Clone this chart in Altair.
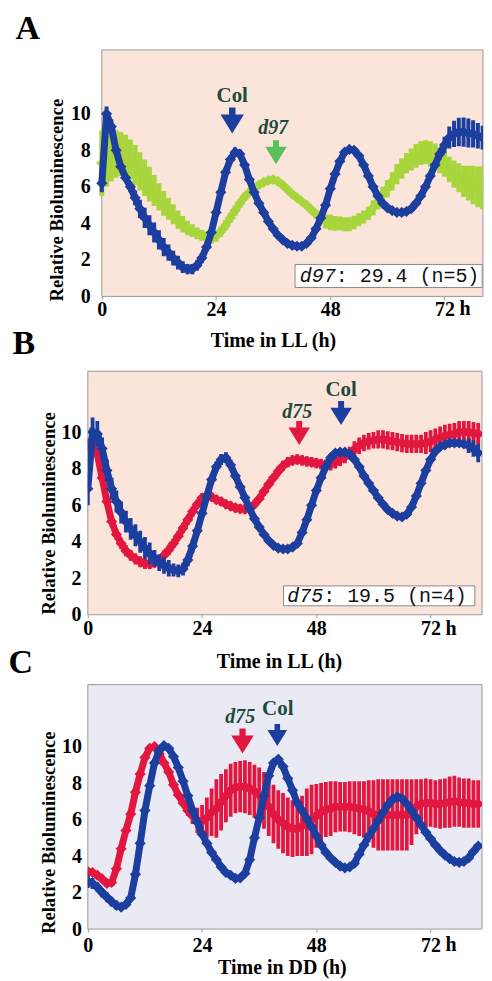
import altair as alt
import pandas as pd

hours = list(range(83))

a_col_mean = [6.2, 10.0, 9.3, 8.0, 7.1, 6.5, 6.0, 5.4, 4.8, 4.3,
              3.9, 3.5, 3.1, 2.7, 2.4, 2.1, 1.85, 1.6, 1.5, 1.5,
              1.7, 2.1, 2.7, 3.5, 4.6, 5.7, 6.8, 7.5, 7.9, 7.8,
              7.2, 6.4, 5.7, 5.1, 4.6, 4.1, 3.7, 3.35, 3.1, 2.9,
              2.8, 2.75, 2.75, 2.9, 3.2, 3.7, 4.3, 5.0, 5.9, 6.7,
              7.4, 7.9, 8.05, 8.0, 7.7, 7.2, 6.6, 6.0, 5.5, 5.1,
              4.85, 4.7, 4.6, 4.6, 4.65, 4.8, 5.1, 5.5, 6.0, 6.6,
              7.2, 7.8, 8.3, 8.7, 8.9, 9.0, 9.0, 8.95, 8.9, 8.8,
              8.7, 8.6, 8.5]
a_col_sd = [0.5, 0.4, 0.4, 0.3, 0.25, 0.2, 0.3, 0.4, 0.5, 0.55,
            0.55, 0.55, 0.53, 0.5, 0.45, 0.4, 0.38, 0.32, 0.28, 0.28,
            0.28, 0.28, 0.25, 0.2, 0.2, 0.2, 0.2, 0.22, 0.25, 0.25,
            0.22, 0.18, 0.15, 0.15, 0.15, 0.15, 0.15, 0.14, 0.13, 0.12,
            0.12, 0.08, 0.08, 0.08, 0.08, 0.12, 0.12, 0.12, 0.12, 0.12,
            0.12, 0.18, 0.18, 0.18, 0.18, 0.12, 0.12, 0.12, 0.12, 0.12,
            0.12, 0.12, 0.12, 0.1, 0.1, 0.1, 0.1, 0.15, 0.15, 0.15,
            0.15, 0.3, 0.45, 0.6, 0.72, 0.78, 0.8, 0.8, 0.75, 0.7,
            0.65, 0.6, 0.58]
a_d97_mean = [7.3, 7.6, 7.7, 7.8, 7.8, 7.7, 7.5, 7.2, 6.85, 6.5,
              6.15, 5.8, 5.45, 5.1, 4.8, 4.5, 4.2, 3.95, 3.75, 3.6,
              3.45, 3.35, 3.25, 3.2, 3.3, 3.55, 3.9, 4.3, 4.7, 5.1,
              5.45, 5.7, 5.9, 6.1, 6.25, 6.35, 6.4, 6.3, 6.1, 5.85,
              5.6, 5.4, 5.2, 5.0, 4.75, 4.5, 4.25, 4.1, 4.05, 4.0,
              4.0, 3.95, 3.95, 4.05, 4.2, 4.35, 4.55, 4.85, 5.2, 5.55,
              5.9, 6.3, 6.7, 7.0, 7.3, 7.5, 7.7, 7.85, 7.9, 7.8,
              7.65, 7.45, 7.2, 6.95, 6.7, 6.5, 6.3, 6.2, 6.1, 6.0,
              5.95, 5.9, 5.9]
a_d97_sd = [1.8, 1.6, 1.4, 1.3, 1.2, 1.15, 1.1, 1.1, 1.05, 1.0,
            0.95, 0.85, 0.75, 0.68, 0.6, 0.55, 0.5, 0.45, 0.4, 0.35,
            0.32, 0.3, 0.3, 0.3, 0.3, 0.28, 0.28, 0.28, 0.28, 0.25,
            0.22, 0.2, 0.18, 0.15, 0.12, 0.1, 0.1, 0.1, 0.12, 0.15,
            0.15, 0.15, 0.17, 0.2, 0.22, 0.25, 0.3, 0.38, 0.43, 0.4,
            0.38, 0.38, 0.38, 0.37, 0.36, 0.36, 0.37, 0.4, 0.43, 0.45,
            0.47, 0.5, 0.55, 0.55, 0.55, 0.6, 0.65, 0.65, 0.65, 0.7,
            0.73, 0.7, 0.65, 0.7, 0.75, 0.8, 0.85, 0.95, 1.05, 1.12,
            1.18, 1.2, 1.2]

b_col_mean = [6.9, 10.0, 9.9, 9.1, 7.9, 6.9, 6.2, 5.6, 5.1, 4.7,
              4.35, 4.0, 3.65, 3.35, 3.1, 2.85, 2.7, 2.55, 2.45, 2.4,
              2.5, 3.0, 3.75, 4.6, 5.55, 6.5, 7.4, 8.1, 8.5, 8.6,
              8.2, 7.6, 7.0, 6.4, 5.8, 5.25, 4.8, 4.4, 4.05, 3.8,
              3.65, 3.6, 3.6, 3.7, 3.9, 4.5, 5.2, 6.0, 6.8, 7.5,
              8.1, 8.6, 8.85, 8.9, 8.9, 8.8, 8.5, 8.1, 7.6, 7.2,
              6.8, 6.4, 6.05, 5.75, 5.55, 5.4, 5.35, 5.5, 5.9, 6.5,
              7.2, 7.9, 8.5, 8.95, 9.2, 9.3, 9.4, 9.4, 9.4, 9.35,
              9.25, 9.1, 8.85]
b_col_sd = [0.9, 0.8, 0.7, 0.6, 0.6, 0.6, 0.6, 0.6, 0.6, 0.6,
            0.6, 0.6, 0.6, 0.6, 0.45, 0.45, 0.45, 0.45, 0.35, 0.35,
            0.35, 0.35, 0.35, 0.3, 0.3, 0.3, 0.3, 0.3, 0.3, 0.3,
            0.3, 0.15, 0.15, 0.15, 0.15, 0.15, 0.15, 0.15, 0.15, 0.15,
            0.15, 0.15, 0.15, 0.15, 0.15, 0.15, 0.15, 0.15, 0.15, 0.15,
            0.15, 0.15, 0.15, 0.15, 0.15, 0.15, 0.1, 0.1, 0.1, 0.1,
            0.1, 0.1, 0.1, 0.1, 0.1, 0.1, 0.1, 0.1, 0.1, 0.1,
            0.1, 0.2, 0.2, 0.2, 0.2, 0.2, 0.2, 0.2, 0.2, 0.2,
            0.4, 0.45, 0.5]
b_d75_mean = [9.3, 9.6, 8.8, 7.5, 6.2, 5.1, 4.4, 3.9, 3.5, 3.25,
              3.05, 2.9, 2.8, 2.78, 2.85, 3.0, 3.25, 3.55, 3.9, 4.3,
              4.75, 5.2, 5.65, 6.05, 6.4, 6.5, 6.45, 6.3, 6.2, 6.05,
              5.95, 5.85, 5.8, 5.78, 5.85, 6.05, 6.35, 6.75, 7.15, 7.5,
              7.85, 8.15, 8.35, 8.45, 8.5, 8.45, 8.4, 8.35, 8.3, 8.25,
              8.2, 8.25, 8.35, 8.5, 8.65, 8.85, 9.05, 9.25, 9.4, 9.5,
              9.55, 9.6, 9.6, 9.55, 9.5, 9.45, 9.4, 9.35, 9.35, 9.35,
              9.35, 9.4, 9.5, 9.6, 9.7, 9.8, 9.85, 9.9, 10.0, 10.0,
              10.0, 9.95, 9.9]
b_d75_sd = [0.35, 0.35, 0.3, 0.3, 0.3, 0.3, 0.3, 0.3, 0.3, 0.3,
            0.3, 0.3, 0.3, 0.28, 0.28, 0.28, 0.28, 0.28, 0.28, 0.28,
            0.28, 0.28, 0.28, 0.25, 0.25, 0.25, 0.25, 0.25, 0.25, 0.25,
            0.25, 0.25, 0.25, 0.25, 0.25, 0.25, 0.25, 0.25, 0.25, 0.25,
            0.28, 0.28, 0.28, 0.28, 0.28, 0.28, 0.28, 0.28, 0.28, 0.28,
            0.28, 0.35, 0.35, 0.35, 0.35, 0.35, 0.45, 0.45, 0.45, 0.45,
            0.45, 0.5, 0.5, 0.5, 0.5, 0.5, 0.5, 0.5, 0.5, 0.5,
            0.5, 0.6, 0.6, 0.6, 0.6, 0.6, 0.6, 0.6, 0.6, 0.6,
            0.6, 0.6, 0.6]

c_col_mean = [2.6, 2.5, 2.3, 2.0, 1.75, 1.5, 1.3, 1.2, 1.35, 1.7,
              3.0, 4.7, 6.5, 7.85, 9.1, 9.8, 10.05, 9.9, 9.45, 8.85,
              8.1, 7.3, 6.5, 5.85, 5.2, 4.7, 4.2, 3.8, 3.4, 3.1,
              2.95, 2.78, 2.8, 3.05, 3.8, 5.0, 6.1, 7.3, 8.4, 9.1,
              9.3, 8.9, 8.25, 7.6, 6.9, 6.5, 6.05, 5.6, 5.1, 4.6,
              4.2, 3.9, 3.65, 3.45, 3.35, 3.4, 3.6, 4.1, 4.6, 5.1,
              5.5, 5.95, 6.4, 6.8, 7.1, 7.25, 7.15, 6.85, 6.5, 6.1,
              5.7, 5.3, 4.95, 4.6, 4.3, 4.05, 3.85, 3.7, 3.65, 3.7,
              3.9, 4.25, 4.55]
c_col_sd = [0.35, 0.3, 0.25, 0.25, 0.25, 0.25, 0.25, 0.15, 0.15, 0.15,
            0.15, 0.15, 0.15, 0.15, 0.15, 0.15, 0.15, 0.15, 0.15, 0.15,
            0.15, 0.15, 0.15, 0.15, 0.15, 0.15, 0.15, 0.15, 0.15, 0.15,
            0.15, 0.15, 0.15, 0.15, 0.15, 0.15, 0.15, 0.15, 0.15, 0.15,
            0.15, 0.15, 0.15, 0.15, 0.15, 0.15, 0.15, 0.15, 0.15, 0.15,
            0.15, 0.15, 0.15, 0.15, 0.15, 0.15, 0.15, 0.15, 0.15, 0.15,
            0.15, 0.15, 0.15, 0.15, 0.25, 0.25, 0.25, 0.15, 0.15, 0.15,
            0.15, 0.15, 0.15, 0.15, 0.15, 0.15, 0.15, 0.15, 0.15, 0.15,
            0.15, 0.15, 0.15]
c_d75_mean = [3.15, 3.1, 2.95, 2.75, 2.5, 2.55, 3.3, 4.4, 5.4, 6.3,
              7.5, 8.5, 9.4, 9.9, 10.0, 9.6, 9.1, 8.6, 7.9, 7.35,
              6.9, 6.5, 6.2, 5.95, 5.9, 6.1, 6.4, 6.6, 6.95, 7.3,
              7.6, 7.75, 7.8, 7.8, 7.7, 7.55, 7.35, 7.05, 6.7, 6.3,
              6.0, 5.8, 5.6, 5.5, 5.5, 5.65, 5.85, 6.0, 6.2, 6.4,
              6.55, 6.6, 6.7, 6.7, 6.7, 6.7, 6.65, 6.6, 6.55, 6.45,
              6.3, 6.25, 6.25, 6.25, 6.25, 6.25, 6.25, 6.25, 6.4, 6.7,
              6.85, 6.9, 6.9, 6.85, 6.85, 6.9, 6.95, 7.0, 6.95, 6.9,
              6.9, 6.85, 6.85]
c_d75_sd = [0.15, 0.15, 0.15, 0.15, 0.15, 0.15, 0.15, 0.15, 0.15, 0.15,
            0.15, 0.15, 0.15, 0.15, 0.15, 0.15, 0.15, 0.15, 0.15, 0.15,
            0.15, 0.3, 0.45, 0.7, 0.9, 1.1, 1.3, 1.6, 1.55, 1.45,
            1.45, 1.4, 1.4, 1.45, 1.45, 1.45, 1.5, 1.55, 1.6, 1.6,
            1.6, 1.65, 1.6, 1.55, 1.5, 1.65, 1.85, 1.9, 1.75, 1.6,
            1.5, 1.5, 1.4, 1.35, 1.35, 1.4, 1.45, 1.5, 1.55, 1.7,
            1.85, 1.95, 1.95, 1.95, 1.95, 1.95, 1.95, 1.95, 1.8, 1.5,
            1.35, 1.35, 1.3, 1.3, 1.35, 1.35, 1.4, 1.4, 1.35, 1.35,
            1.35, 1.3, 1.3]

x_ticks = [0, 24, 48, 72]
y_ticks = [0, 2, 4, 6, 8, 10]

SERIF = "Liberation Serif"
MONO = "Liberation Mono"
BLUE = "#1c3e9e"
RED = "#e2173f"
LIME = "#a8d53c"
GREEN_ARROW = "#5ac05a"
LABEL_TXT = "#1d4a3c"
PINK = "#fbe5db"
LAVENDER = "#e9eaf3"
BORDER = "#9a9a9a"
ARROW = "M-0.25,-1L0.25,-1L0.25,-0.45L0.9,-0.45L0,1L-0.9,-0.45L-0.25,-0.45Z"
ONE = pd.DataFrame({"k": [0]})


def frame(mean, sd):
    rows = [(t, m, m - s, m + s) for t, m, s in zip(hours, mean, sd)]
    return pd.DataFrame(rows, columns=["t", "m", "lo", "hi"])


def series(mean, sd, color, xs, ys, rule_w):
    base = alt.Chart(frame(mean, sd))
    x = alt.X("t:Q", scale=xs)
    bars = base.mark_rule(color=color, strokeWidth=rule_w, clip=True).encode(
        x=x, y=alt.Y("lo:Q", scale=ys), y2="hi:Q")
    line = base.mark_line(color=color, strokeWidth=7, clip=True).encode(
        x=x, y=alt.Y("m:Q", scale=ys))
    pts = base.mark_point(shape="diamond", filled=True, opacity=1, size=125,
                          color=color, clip=True).encode(
        x=x, y=alt.Y("m:Q", scale=ys))
    return [bars, line, pts]


def point_at(t, v):
    return alt.Chart(pd.DataFrame({"t": [t], "v": [v]}))


def panel(p):
    xs = alt.Scale(domain=p["xdom"], nice=False, zero=False)
    ys = alt.Scale(domain=p["ydom"], nice=False, zero=False)
    xaxis = alt.Axis(
        values=x_ticks, title=p["xtitle"], titleFont=SERIF, titleFontSize=20,
        titleFontWeight="bold", titleColor="black", titleX=p["xtx"], titleY=p["xty"],
        titleAlign="center", titleBaseline="middle", titleAngle=0,
        labelFont=SERIF, labelFontSize=20, labelFontWeight="bold", labelColor="black",
        labelBaseline="middle", labelPadding=p["xlp"], labelFlush=False, labelOverlap=False,
        tickSize=3, tickColor=BORDER, domain=False, grid=False, offset=p["xoff"])
    yaxis = alt.Axis(
        values=y_ticks, title="Relative Bioluminescence", titleFont=SERIF,
        titleFontSize=18.7, titleFontWeight="bold", titleColor="black",
        titleX=p["ytx"], titleY=p["yty"], titleAlign="center", titleBaseline="middle",
        titleAngle=270, labelFont=SERIF, labelFontSize=20, labelFontWeight="bold",
        labelColor="black", labelBaseline="middle", labelPadding=p["ylp"],
        labelFlush=False, labelOverlap=False, ticks=False, tickSize=0,
        domain=False, grid=False, offset=p["yoff"])
    bgdf = pd.DataFrame({"a": [0], "b": [p["xdom"][1]], "c": [0], "d": [p["ydom"][1]]})
    layers = [alt.Chart(bgdf).mark_rect(fill=p["bg"], stroke=BORDER, strokeWidth=1).encode(
        x=alt.X("a:Q", scale=xs, axis=xaxis), x2="b:Q",
        y=alt.Y("c:Q", scale=ys, axis=yaxis), y2="d:Q")]
    for mean, sd, color, rw in p["series"]:
        layers += series(mean, sd, color, xs, ys, rw)
    X = alt.X("t:Q", scale=xs)
    Y = alt.Y("v:Q", scale=ys)
    for (t, v, color, size) in p["arrows"]:
        layers.append(point_at(t, v).mark_point(shape=ARROW, filled=True, opacity=1,
                                                size=size, color=color).encode(x=X, y=Y))
    for (t, v, txt, italic, fs) in p["labels"]:
        layers.append(point_at(t, v).mark_text(
            text=txt, font=SERIF, fontSize=fs, fontWeight="bold",
            fontStyle="italic" if italic else "normal", color=LABEL_TXT,
            align="center", baseline="alphabetic").encode(x=X, y=Y))
    if p.get("box"):
        (bx0, bx1, by0, by1, tx, ty, name, rest) = p["box"]
        layers.append(alt.Chart(pd.DataFrame({"a": [bx0], "b": [bx1], "c": [by0], "d": [by1]}))
                      .mark_rect(fill="white", stroke="#8a8a8a", strokeWidth=1)
                      .encode(x=alt.X("a:Q", scale=xs), x2="b:Q",
                              y=alt.Y("c:Q", scale=ys), y2="d:Q"))
        layers.append(point_at(tx, ty).mark_text(
            text=name, font=MONO, fontSize=20, fontStyle="italic", color="#111111",
            align="left", baseline="middle").encode(x=X, y=Y))
        layers.append(point_at(tx, ty).mark_text(
            text=rest, font=MONO, fontSize=20, color="#111111", dx=36,
            align="left", baseline="middle").encode(x=X, y=Y))
    layers.append(point_at(72, 0).mark_text(
        text="h", font=SERIF, fontSize=20, fontWeight="bold", color="black",
        align="left", baseline="middle", dx=15, dy=p["xlp"] + 3).encode(x=X, y=Y))
    layers.append(alt.Chart(ONE).mark_text(
        text=p["letter"], font=SERIF, fontSize=34, fontWeight="bold", color="black",
        align="left", baseline="alphabetic").encode(
        x=alt.value(p["lx"]), y=alt.value(p["ly"])))
    if p.get("anchor"):
        layers.append(alt.Chart(ONE).mark_point(filled=True, opacity=0, size=4).encode(
            x=alt.value(p["anchor"][0]), y=alt.value(p["anchor"][1])))
    return alt.layer(*layers).properties(width=p["w"], height=p["h"])


pA = dict(
    xdom=[-2.935, 80.08], ydom=[-0.273, 13.5], w=396, h=252, bg=PINK,
    xtitle="Time in LL (h)", xtx=185.5, xty=44, xlp=10, xoff=-5,
    ytx=-45.5, yty=150, ylp=11.5, yoff=-14,
    series=[(a_d97_mean, a_d97_sd, LIME, 5.0), (a_col_mean, a_col_sd, BLUE, 4.0)],
    arrows=[(27.4, 9.64, BLUE, 676), (36.6, 7.9, GREEN_ARROW, 576)],
    labels=[(27.4, 10.66, "Col", False, 21), (36.0, 8.9, "d97", True, 20)],
    box=(40.6, 79.9, 0.49, 1.75, 41.6, 1.12, "d97", ": 29.4 (n=5)"),
    letter="A", lx=-72.5, ly=-11, anchor=(-78.5, -39),
)
pB = dict(
    xdom=[0, 82.8], ydom=[0, 13.33], w=395, h=244, bg=PINK,
    xtitle="Time in LL (h)", xtx=191.5, xty=47, xlp=11, xoff=0,
    ytx=-39.5, yty=142, ylp=7, yoff=0,
    series=[(b_d75_mean, b_d75_sd, RED, 3.8), (b_col_mean, b_col_sd, BLUE, 3.8)],
    arrows=[(44.4, 9.95, RED, 576), (53.2, 11.04, BLUE, 576)],
    labels=[(44.0, 10.77, "d75", True, 20), (53.2, 11.97, "Col", False, 21)],
    box=(41.1, 81.3, 0.49, 1.58, 41.9, 1.04, "d75", ": 19.5 (n=4)"),
    letter="B", lx=-75.5, ly=-17,
)
pC = dict(
    xdom=[0, 82.8], ydom=[0, 13.39], w=395, h=245, bg=LAVENDER,
    xtitle="Time in DD (h)", xtx=194.5, xty=39, xlp=13, xoff=0,
    ytx=-39, yty=148, ylp=6.3, yoff=0,
    series=[(c_d75_mean, c_d75_sd, RED, 3.8), (c_col_mean, c_col_sd, BLUE, 3.8)],
    arrows=[(32.5, 10.3, RED, 625), (39.8, 10.63, BLUE, 484)],
    labels=[(32.0, 11.26, "d75", True, 20), (39.9, 11.7, "Col", False, 21)],
    letter="C", lx=-79.5, ly=-12,
)

chart = alt.vconcat(panel(pA), panel(pB), panel(pC), spacing=70, bounds="flush").properties(
    padding=0
).configure_view(stroke="transparent")

chart.save("out.html", embed_options={"renderer": "svg", "actions": False})
